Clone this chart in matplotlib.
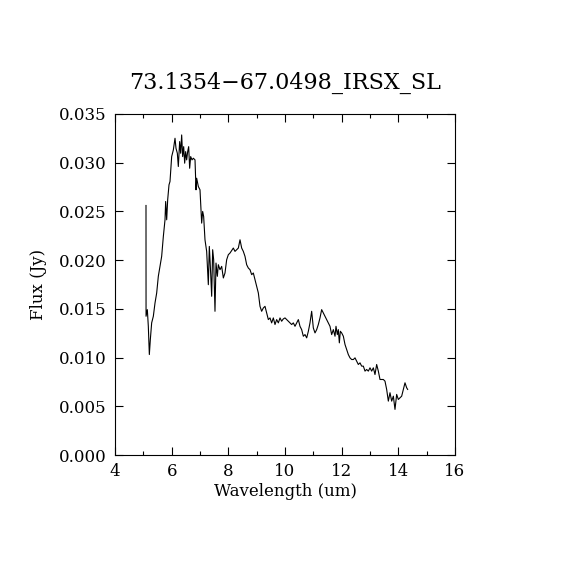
import matplotlib
matplotlib.use("Agg")
import matplotlib.pyplot as plt
from matplotlib.ticker import MultipleLocator, FormatStrFormatter

wavelength = [5.094, 5.096, 5.141, 5.176, 5.212, 5.247, 5.294, 5.353, 5.412, 5.471,
              5.529, 5.588, 5.647, 5.706, 5.765, 5.788, 5.824, 5.859, 5.906, 5.941,
              6.000, 6.059, 6.118, 6.153, 6.200, 6.235, 6.282, 6.318, 6.353, 6.388,
              6.424, 6.459, 6.494, 6.529, 6.565, 6.600, 6.635, 6.671, 6.718, 6.765,
              6.824, 6.859, 6.882, 6.941, 7.000, 7.035, 7.059, 7.094, 7.129, 7.176,
              7.235, 7.294, 7.329, 7.376, 7.412, 7.447, 7.482, 7.529, 7.565, 7.612,
              7.647, 7.706, 7.765, 7.824, 7.882, 7.941, 8.000, 8.059, 8.176, 8.235,
              8.294, 8.353, 8.412, 8.471, 8.529, 8.588, 8.647, 8.706, 8.765, 8.824,
              8.882, 8.941, 9.000, 9.059, 9.118, 9.176, 9.235, 9.294, 9.353, 9.412,
              9.471, 9.529, 9.588, 9.647, 9.706, 9.765, 9.824, 9.882, 9.941, 10.000,
              10.059, 10.118, 10.176, 10.235, 10.294, 10.353, 10.412, 10.471, 10.529, 10.588,
              10.647, 10.706, 10.765, 10.824, 10.882, 10.941, 11.000, 11.059, 11.118, 11.176,
              11.235, 11.294, 11.353, 11.412, 11.471, 11.529, 11.588, 11.647, 11.706, 11.765,
              11.800, 11.847, 11.882, 11.918, 11.953, 12.000, 12.059, 12.118, 12.176, 12.235,
              12.294, 12.353, 12.412, 12.471, 12.529, 12.588, 12.647, 12.706, 12.765, 12.824,
              12.882, 12.941, 13.000, 13.059, 13.118, 13.176, 13.235, 13.294, 13.353, 13.412,
              13.471, 13.529, 13.588, 13.647, 13.706, 13.765, 13.824, 13.882, 13.941, 14.000,
              14.059, 14.118, 14.176, 14.235, 14.294, 14.329]

flux = [0.02561, 0.01424, 0.01492, 0.01321, 0.01031, 0.01185, 0.01356, 0.01424, 0.01560, 0.01663,
        0.01834, 0.01936, 0.02039, 0.02243, 0.02414, 0.02602, 0.02414, 0.02619, 0.02773, 0.02807,
        0.03063, 0.03131, 0.03251, 0.03148, 0.03097, 0.02961, 0.03217, 0.03097, 0.03285, 0.03063,
        0.03165, 0.02995, 0.03114, 0.03029, 0.03114, 0.03165, 0.02943, 0.03063, 0.03029, 0.03046,
        0.03029, 0.02722, 0.02841, 0.02756, 0.02722, 0.02517, 0.02380, 0.02500, 0.02448, 0.02209,
        0.02090, 0.01748, 0.02141, 0.01868, 0.01629, 0.02107, 0.02004, 0.01475, 0.01970, 0.01834,
        0.01953, 0.01902, 0.01936, 0.01817, 0.01868, 0.02004, 0.02056, 0.02073, 0.02124, 0.02090,
        0.02107, 0.02124, 0.02209, 0.02124, 0.02090, 0.02039, 0.01953, 0.01919, 0.01902, 0.01851,
        0.01868, 0.01800, 0.01731, 0.01663, 0.01526, 0.01475, 0.01509, 0.01526, 0.01458, 0.01390,
        0.01407, 0.01356, 0.01407, 0.01339, 0.01390, 0.01356, 0.01407, 0.01373, 0.01397, 0.01407,
        0.01390, 0.01373, 0.01356, 0.01339, 0.01356, 0.01321, 0.01356, 0.01390, 0.01321, 0.01287,
        0.01219, 0.01236, 0.01202, 0.01270, 0.01356, 0.01475, 0.01304, 0.01253, 0.01287, 0.01339,
        0.01407, 0.01492, 0.01458, 0.01424, 0.01390, 0.01356, 0.01321, 0.01236, 0.01287, 0.01219,
        0.01321, 0.01236, 0.01287, 0.01151, 0.01270, 0.01253, 0.01219, 0.01134, 0.01083, 0.01031,
        0.00997, 0.00980, 0.00980, 0.00997, 0.00963, 0.00929, 0.00946, 0.00912, 0.00912, 0.00861,
        0.00878, 0.00861, 0.00895, 0.00861, 0.00895, 0.00826, 0.00929, 0.00861, 0.00775, 0.00775,
        0.00775, 0.00758, 0.00673, 0.00553, 0.00639, 0.00553, 0.00604, 0.00468, 0.00622, 0.00570,
        0.00587, 0.00604, 0.00673, 0.00741, 0.00690, 0.00673]

title = "73.1354\u221267.0498_IRSX_SL"
xlabel = "Wavelength (um)"
ylabel = "Flux (Jy)"

plt.rcParams['font.family'] = ['DejaVu Serif']

fig = plt.figure(figsize=(5.7, 5.7), dpi=100)
ax = fig.add_axes([115/570, 1 - 455/570, 340/570, 341/570])
ax.plot(wavelength, flux, color='black', lw=0.8)
ax.set_xlim(4, 16)
ax.set_ylim(0, 0.035)
ax.xaxis.set_major_locator(MultipleLocator(2))
ax.xaxis.set_minor_locator(MultipleLocator(1))
ax.yaxis.set_major_locator(MultipleLocator(0.005))
ax.yaxis.set_major_formatter(FormatStrFormatter('%.3f'))
ax.tick_params(which='both', direction='in', top=True, right=True, labelsize=12, width=0.8)
ax.tick_params(which='major', length=6, pad=6)
ax.tick_params(which='minor', length=3)
for s in ax.spines.values():
    s.set_linewidth(0.8)
ax.set_xlabel(xlabel, fontsize=12)
ax.set_ylabel(ylabel, fontsize=12)
ax.xaxis.set_label_coords(0.5, -0.1085)
ax.yaxis.set_label_coords(-0.226, 0.5)
ax.xaxis.label.set_va('center')
ax.yaxis.label.set_va('center')
fig.text(285/570, 1 - 83/570, title, fontsize=16, ha='center', va='center')
fig.savefig('out.png', dpi=100)
